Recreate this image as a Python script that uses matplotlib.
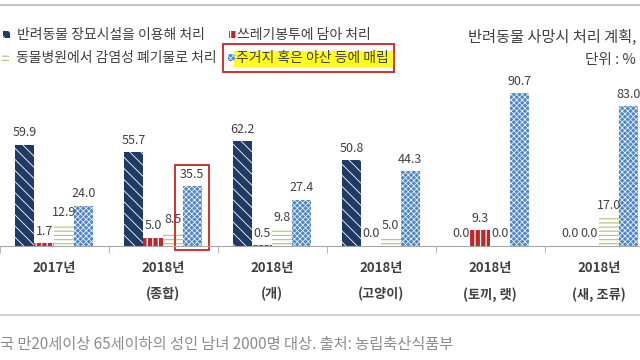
import matplotlib

matplotlib.use("Agg")
import matplotlib.pyplot as plt
import numpy as np
from matplotlib.patches import Rectangle

plt.rcParams["font.family"] = ["Noto Sans CJK KR", "DejaVu Sans"]

# ---- data ----
categories = ["2017년", "2018년\n(종합)", "2018년\n(개)", "2018년\n(고양이)",
              "2018년\n(토끼, 랫)", "2018년\n(새, 조류)"]
series_names = ["반려동물 장묘시설을 이용해 처리", "쓰레기봉투에 담아 처리",
                "동물병원에서 감염성 폐기물로 처리", "주거지 혹은 야산 등에 매립"]
funeral = [59.9, 55.7, 62.2, 50.8, 0.0, 0.0]
trash_bag = [1.7, 5.0, 0.5, 0.0, 9.3, 0.0]
vet_waste = [12.9, 8.5, 9.8, 5.0, 0.0, 17.0]
buried = [24.0, 35.5, 27.4, 44.3, 90.7, 83.0]
title = "반려동물 사망시 처리 계획,"
unit = "단위 : %"
note = "국 만20세이상 65세이하의 성인 남녀 2000명 대상. 출처: 농립축산식품부"

STYLE = [  # facecolor, hatch colour, hatch, hatch linewidth
    ("#1F3A63", "white", "\\\\\\", 0.6),
    ("#C0272D", "white", "|||", 0.9),
    ("white", "#B5C98A", "----", 0.9),
    ("#4F86C6", "white", "xxxxxx", 0.5),
]
TXT = "#404040"
W, H = 640, 360

fig = plt.figure(figsize=(W / 100, H / 100), dpi=100, facecolor="white")
# axes placed so the baseline sits where the screenshot has it (cropped at both sides)
ax = fig.add_axes([-0.5 / W, (H - 246) / H, 654 / W, 168.6 / H])
ax.set_xlim(-0.5, 5.5)
ax.set_ylim(0, 100)

x = np.arange(len(categories))
bw = 0.179
for k, vals in enumerate([funeral, trash_bag, vet_waste, buried]):
    fc, hc, hatch, hlw = STYLE[k]
    pos = x + (k - 1.5) * bw
    with plt.rc_context({"hatch.linewidth": hlw}):
        bars = ax.bar(pos, vals, bw, facecolor=fc, edgecolor=hc, hatch=hatch, linewidth=0)
    for b, v in zip(bars, vals):
        ax.annotate(f"{v:.1f}", (b.get_x() + b.get_width() / 2, v), xytext=(0, 4),
                    textcoords="offset points", ha="center", va="bottom",
                    fontsize=9, color=TXT)
    if k == 3:
        hb = bars[1]
        cx = hb.get_x() + hb.get_width() / 2
        ax.add_patch(Rectangle((cx - 0.155, -2.4), 0.31, 50.4, fill=False,
                               edgecolor="#D0312D", linewidth=1.4, clip_on=False))

for s in ["top", "left", "right"]:
    ax.spines[s].set_visible(False)
ax.spines["bottom"].set_color("#A6A6A6")
ax.set_yticks([])
ax.set_xticks(x)
ax.set_xticklabels(categories, fontsize=9.5, color=TXT, fontweight="bold", linespacing=2.0)
ax.tick_params(axis="x", which="major", length=0, pad=11)
ax.set_xticks(np.arange(-0.5, 6.0, 1.0), minor=True)
ax.tick_params(axis="x", which="minor", length=5, color="#A6A6A6")


def fx(px):
    return px / W


def fy(py):
    return (H - py) / H


# frame lines of the screenshot
fig.add_artist(plt.Line2D([0, 1], [fy(5), fy(5)], color="#C8C8C8", linewidth=1.6))
fig.add_artist(plt.Line2D([0, 1], [fy(315), fy(315)], color="#C8C8C8", linewidth=1.2))

# manual legend
leg = [(3, 31, 17, 35), (229, 31, 237, 35), (2, 54, 16, 58), (228, 54, 236, 58)]
for k, (mx, my, tx, ty) in enumerate(leg):
    fc, hc, hatch, hlw = STYLE[k]
    if k == 3:
        fig.add_artist(Rectangle((fx(234), fy(67)), fx(159), 16 / H,
                                 facecolor="#FFFF1A", edgecolor="none"))
    with plt.rc_context({"hatch.linewidth": hlw}):
        fig.add_artist(Rectangle((fx(mx), fy(my + 7)), fx(7), 7 / H, facecolor=fc,
                                 edgecolor=hc, hatch=hatch, linewidth=0))
    fig.text(fx(tx), fy(ty), series_names[k], ha="left", va="center",
             fontsize=10, color=TXT)
fig.add_artist(Rectangle((fx(223), fy(72)), fx(171), 28 / H, fill=False,
                         edgecolor="#D0312D", linewidth=1.4))

fig.text(fx(636), fy(37), title, ha="right", va="center", fontsize=11, color=TXT)
fig.text(fx(636), fy(60), unit, ha="right", va="center", fontsize=10.5, color=TXT)
fig.text(fx(0), fy(344), note, ha="left", va="center", fontsize=11, color="#8C8C8C")

fig.savefig("out.png", dpi=100, facecolor="white")
